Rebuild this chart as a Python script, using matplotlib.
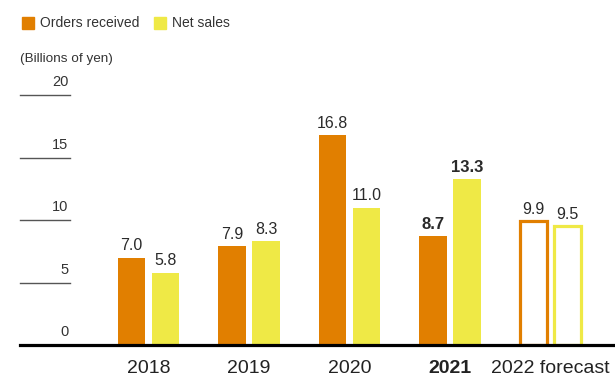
import numpy as np
import matplotlib.pyplot as plt

plt.rcParams['font.family'] = ['Liberation Sans', 'DejaVu Sans']

# values in billions of yen
years = ["2018", "2019", "2020", "2021", "2022 forecast"]
orders = [7.0, 7.9, 16.8, 8.7, 9.9]
sales = [5.8, 8.3, 11.0, 13.3, 9.5]
yticks = [0, 5, 10, 15, 20]

ORANGE = "#E17F00"
YELLOW = "#EFE946"
BOLD_YEAR = 3
FORECAST = 4

fig = plt.figure(figsize=(6.15, 3.77), dpi=100)
ax = fig.add_axes([20 / 615, 32 / 377, 595 / 615, 250 / 377])
ax.set_xlim(-1.279, 4.642)
ax.set_ylim(0, 20)
ax.axis("off")

x = np.arange(len(years))
w = 0.27
off = 0.169

for i in x:
    weight = "bold" if i == BOLD_YEAR else "normal"
    for xv, val, col in ((i - off, orders[i], ORANGE), (i + off, sales[i], YELLOW)):
        if i == FORECAST:
            ax.bar(xv, val, w, facecolor="white", edgecolor=col, linewidth=2.3)
        else:
            ax.bar(xv, val, w, color=col, linewidth=0)
        ax.annotate(f"{val:.1f}", (xv, val), xytext=(0, 3), textcoords="offset points",
                    ha="center", va="bottom", fontsize=12 if i == BOLD_YEAR else 11.5,
                    fontweight=weight, color="#2a2a2a")
    ax.annotate(years[i], (i, 0), xytext=(0.02 if i == FORECAST else 0, -17),
                textcoords="offset points", ha="center", va="center",
                fontsize=14, fontweight=weight, color="#222222")

# scale marks on the left
for t in yticks:
    if t > 0:
        ax.plot([-1.279, -0.781], [t, t], color="#555555", lw=1.0, clip_on=False)
    ax.annotate(str(t), (-0.80, t), xytext=(0, 4), textcoords="offset points",
                ha="right", va="bottom", fontsize=10.5, color="#333333")

ax.axhline(0, color="black", lw=2.3, clip_on=False)

# legend and unit
fig.patches.append(plt.Rectangle((22 / 615, 1 - 29 / 377), 12 / 615, 12 / 377,
                                 transform=fig.transFigure, color=ORANGE))
fig.text(40 / 615, 1 - 23 / 377, "Orders received", fontsize=10, va="center", color="#333333")
fig.patches.append(plt.Rectangle((154 / 615, 1 - 29 / 377), 12 / 615, 12 / 377,
                                 transform=fig.transFigure, color=YELLOW))
fig.text(172 / 615, 1 - 23 / 377, "Net sales", fontsize=10, va="center", color="#333333")
fig.text(20 / 615, 1 - 59 / 377, "(Billions of yen)", fontsize=9.7, va="center", color="#333333")

fig.savefig("out.png", dpi=100)
